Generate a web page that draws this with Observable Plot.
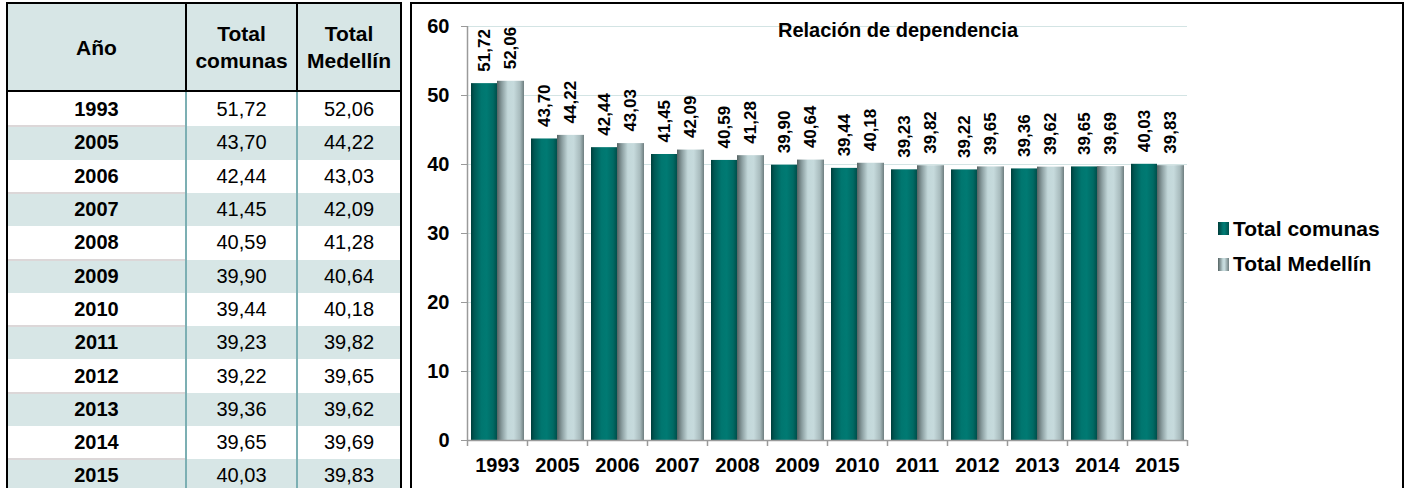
<!DOCTYPE html>
<html>
<head>
<meta charset="utf-8">
<script src="https://cdn.jsdelivr.net/npm/d3@7"></script>
<script src="https://cdn.jsdelivr.net/npm/@observablehq/plot@0.6"></script>
<style>
  body { margin: 0; background: #fff; font-family: "Liberation Sans", Arial, sans-serif; }
  #page { position: relative; width: 1408px; height: 488px; overflow: hidden; background: #fff; }
  .abs { position: absolute; box-sizing: border-box; }
  .cell { position: absolute; display: flex; align-items: center; justify-content: center; font-size: 20px; color: #000; text-align: center; line-height: 27px; }
  #chartBox { position: absolute; left: 410px; top: 2px; width: 994px; height: 520px; border: 2px solid #000; box-sizing: border-box; }
  #plotHolder { position: absolute; left: 412px; top: 0px; }
  #title { position: absolute; left: 412px; width: 972px; top: 20px; text-align: center; font-size: 20px; font-weight: bold; line-height: 20px; color: #000; }
  .leg { position: absolute; left: 1233px; font-size: 21px; font-weight: bold; line-height: 24px; color: #000; white-space: nowrap; }
  .sw { position: absolute; left: 1218px; width: 11px; height: 13px; }
</style>
</head>
<body>
<div id="page">
  <div id="tableArea"></div>
  <div id="chartBox"></div>
  <div id="plotHolder"></div>
  <div id="title">Relación de dependencia</div>
</div>
<script>
// ---------- data ----------
const years = ["1993","2005","2006","2007","2008","2009","2010","2011","2012","2013","2014","2015"];
const comunas = [51.72, 43.70, 42.44, 41.45, 40.59, 39.90, 39.44, 39.23, 39.22, 39.36, 39.65, 40.03];
const medellin = [52.06, 44.22, 43.03, 42.09, 41.28, 40.64, 40.18, 39.82, 39.65, 39.62, 39.69, 39.83];
const seriesNames = ["Total comunas", "Total Medellín"];
const headerLabels = ["Año", "Total<br>comunas", "Total<br>Medellín"];
const yTicks = [0, 10, 20, 30, 40, 50, 60];
const chartTitle = "Relación de dependencia";

const fmt = v => d3.format(".2f")(v).replace(".", ",");

// ---------- table ----------
const page = d3.select("#page");
const ta = d3.select("#tableArea");
const colX = [8, 187, 298];
const colW = [177, 109, 102];
const rowTop0 = 93, rowH = 33.3;

// header background
ta.append("div").attr("class", "abs").style("left", "8px").style("top", "4px").style("width", "392px").style("height", "86px").style("background", "#d7e6e6");
// striped rows
years.forEach((y, i) => {
  const top = rowTop0 + i * rowH;
  if (i % 2 === 1) {
    ta.append("div").attr("class", "abs").style("left", "8px").style("top", top + "px").style("width", "392px").style("height", rowH + "px").style("background", "#d7e6e6");
    ta.append("div").attr("class", "abs").style("left", "8px").style("top", (top - 1) + "px").style("width", "177px").style("height", "2px").style("background", "#dcd7d8");
  }
});
// header text
headerLabels.forEach((h, j) => {
  ta.append("div").attr("class", "cell").style("left", colX[j] + "px").style("top", "4px").style("width", colW[j] + "px").style("height", "86px")
    .style("font-weight", "bold").style("font-size", "21px").html(h);
});
// body text
years.forEach((y, i) => {
  const top = rowTop0 + i * rowH;
  const vals = [y, fmt(comunas[i]), fmt(medellin[i])];
  vals.forEach((v, j) => {
    ta.append("div").attr("class", "cell").style("left", colX[j] + "px").style("top", top + "px").style("width", colW[j] + "px").style("height", rowH + "px")
      .style("font-weight", j === 0 ? "bold" : "normal").text(v);
  });
});
// body column separators
[185, 296].forEach(x => {
  ta.append("div").attr("class", "abs").style("left", x + "px").style("top", "92px").style("width", "2px").style("height", "400px").style("background", "#7cafb3");
});
// header borders (black)
[185, 296].forEach(x => {
  ta.append("div").attr("class", "abs").style("left", x + "px").style("top", "2px").style("width", "2px").style("height", "90px").style("background", "#000");
});
ta.append("div").attr("class", "abs").style("left", "6px").style("top", "90px").style("width", "396px").style("height", "2px").style("background", "#000");
// outer border
ta.append("div").attr("class", "abs").style("left", "6px").style("top", "2px").style("width", "396px").style("height", "520px").style("border", "2px solid #000");

// ---------- chart ----------
const rowsA = years.map((y, i) => ({year: y, value: comunas[i], series: seriesNames[0]}));
const rowsB = years.map((y, i) => ({year: y, value: medellin[i], series: seriesNames[1]}));
const axisGrey = "#9a9a9a";

const chart = Plot.plot({
  width: 990,
  height: 488,
  marginLeft: 55,
  marginRight: 215,
  marginTop: 26,
  marginBottom: 48,
  style: {fontFamily: '"Liberation Sans", Arial, sans-serif', fontWeight: "bold", color: "#000", background: "transparent", overflow: "visible"},
  x: {type: "band", domain: years, padding: 0, label: null},
  y: {domain: [0, 60], label: null},
  marks: [
    Plot.ruleY(yTicks.filter(d => d > 0), {stroke: "#d3e4e4", strokeWidth: 1}),
    Plot.barY(rowsA, {x: "year", y: "value", fill: "url(#gradA)", insetLeft: 4, insetRight: 30}),
    Plot.barY(rowsB, {x: "year", y: "value", fill: "url(#gradB)", insetLeft: 30, insetRight: 3}),
    Plot.text(rowsA, {x: "year", y: "value", text: d => fmt(d.value), rotate: -90, textAnchor: "start", dx: -13, dy: -12, fontSize: 17, fill: "#000"}),
    Plot.text(rowsB, {x: "year", y: "value", text: d => fmt(d.value), rotate: -90, textAnchor: "start", dx: 13.5, dy: -12, fontSize: 17, fill: "#000"}),
    Plot.ruleY([0], {stroke: axisGrey, strokeWidth: 1.5}),
    Plot.ruleX([years[0]], {x: d => d, dx: -30, y1: 0, y2: 60, stroke: axisGrey, strokeWidth: 1.5}),
    Plot.ruleX(years, {x: d => d, dx: -30, y1: 0, y2: 0, insetBottom: -6, stroke: axisGrey, strokeWidth: 1.5}),
    Plot.ruleX([years[years.length - 1]], {x: d => d, dx: 30, y1: 0, y2: 0, insetBottom: -6, stroke: axisGrey, strokeWidth: 1.5}),
    Plot.axisY({ticks: yTicks, tickSize: 6, tickPadding: 12, fontSize: 20, stroke: axisGrey, fill: "#000", tickFormat: d => String(d), label: null}),
    Plot.axisX({tickSize: 0, tickPadding: 17, fontSize: 20, fill: "#000", label: null})
  ]
});

// gradients for the bars
const defs = d3.select(chart).insert("defs", ":first-child");
const gA = defs.append("linearGradient").attr("id", "gradA").attr("x1", 0).attr("x2", 1).attr("y1", 0).attr("y2", 0);
[[0, "#003d3a"], [0.12, "#005853"], [0.4, "#00766f"], [0.6, "#007a73"], [0.85, "#006a64"], [1, "#004f4b"]]
  .forEach(([o, c]) => gA.append("stop").attr("offset", o).attr("stop-color", c));
const gB = defs.append("linearGradient").attr("id", "gradB").attr("x1", 0).attr("x2", 1).attr("y1", 0).attr("y2", 0);
[[0, "#556363"], [0.18, "#8a9d9f"], [0.4, "#c3d8da"], [0.62, "#c6dadc"], [0.85, "#a8bbbd"], [1, "#6e7e7f"]]
  .forEach(([o, c]) => gB.append("stop").attr("offset", o).attr("stop-color", c));

document.getElementById("plotHolder").appendChild(chart);

// ---------- legend ----------
const swFills = [
  "linear-gradient(to right, #003d3a, #007670 45%, #007a73 60%, #004f4b)",
  "linear-gradient(to right, #556363, #c3d8da 45%, #c6dadc 60%, #6e7e7f)"
];
const legTops = [217, 252];
const swTops = [222, 258];
seriesNames.forEach((s, i) => {
  page.append("div").attr("class", "sw").style("top", swTops[i] + "px").style("background", swFills[i]);
  page.append("div").attr("class", "leg").style("top", legTops[i] + "px").text(s);
});
d3.select("#title").text(chartTitle);
</script>
</body>
</html>
